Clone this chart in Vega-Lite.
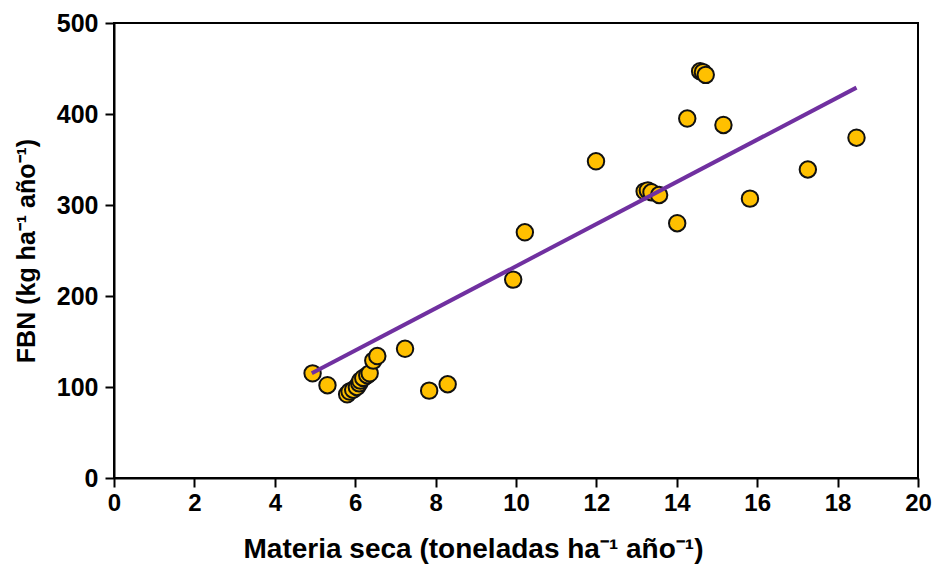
{
  "$schema": "https://vega.github.io/schema/vega-lite/v6.json",
  "width": 804,
  "height": 455,
  "autosize": {"type": "none"},
  "padding": {"left": 114, "top": 23, "right": 18, "bottom": 88},
  "background": "white",
  "config": {
    "view": {"stroke": "black", "strokeWidth": 2},
    "font": "Liberation Sans",
    "axis": {
      "domainColor": "black",
      "domainWidth": 2,
      "tickColor": "black",
      "tickWidth": 2,
      "tickSize": 9,
      "grid": false,
      "labelFont": "Liberation Sans",
      "labelFontWeight": "bold",
      "labelColor": "black",
      "titleFont": "Liberation Sans",
      "titleFontWeight": "bold",
      "titleColor": "black"
    }
  },
  "layer": [
    {
      "data": {"values": [
        {"ms": 4.94, "fbn": 115},
        {"ms": 5.31, "fbn": 102},
        {"ms": 5.80, "fbn": 92},
        {"ms": 5.86, "fbn": 95},
        {"ms": 5.95, "fbn": 97},
        {"ms": 6.04, "fbn": 100},
        {"ms": 6.10, "fbn": 104},
        {"ms": 6.13, "fbn": 107},
        {"ms": 6.20, "fbn": 110},
        {"ms": 6.30, "fbn": 113},
        {"ms": 6.36, "fbn": 115},
        {"ms": 6.45, "fbn": 129},
        {"ms": 6.55, "fbn": 134},
        {"ms": 7.24, "fbn": 142},
        {"ms": 7.84, "fbn": 96},
        {"ms": 8.30, "fbn": 103},
        {"ms": 9.93, "fbn": 218},
        {"ms": 10.22, "fbn": 270},
        {"ms": 11.99, "fbn": 348},
        {"ms": 13.20, "fbn": 315},
        {"ms": 13.28, "fbn": 316},
        {"ms": 13.37, "fbn": 314},
        {"ms": 13.56, "fbn": 311},
        {"ms": 14.01, "fbn": 280},
        {"ms": 14.26, "fbn": 395},
        {"ms": 14.58, "fbn": 447},
        {"ms": 14.65, "fbn": 446},
        {"ms": 14.72, "fbn": 443},
        {"ms": 15.16, "fbn": 388},
        {"ms": 15.82, "fbn": 307},
        {"ms": 17.26, "fbn": 339},
        {"ms": 18.47, "fbn": 374}
      ]},
      "mark": {"type": "point", "shape": "circle", "filled": true, "fill": "#FFC000", "stroke": "#111111", "strokeWidth": 2, "size": 270, "opacity": 1},
      "encoding": {
        "x": {"field": "ms", "type": "quantitative",
              "scale": {"domain": [0, 20], "nice": false, "zero": true},
              "axis": {"values": [0,2,4,6,8,10,12,14,16,18,20], "title": "Materia seca (toneladas ha⁻¹ año⁻¹)",
                       "labelFontSize": 24, "labelPadding": 4, "labelFlush": false,
                       "titleFontSize": 28, "titleX": 359, "titleY": 79, "titleBaseline": "alphabetic", "titleAlign": "center"}},
        "y": {"field": "fbn", "type": "quantitative",
              "scale": {"domain": [0, 500], "nice": false},
              "axis": {"values": [0,100,200,300,400,500], "title": "FBN (kg ha⁻¹ año⁻¹)",
                       "labelFontSize": 25, "labelPadding": 7, "labelFlush": false,
                       "titleFontSize": 25, "titleAngle": -90, "titleX": -80, "titleY": 227.5, "titleBaseline": "alphabetic", "titleAlign": "center"}}
      }
    },
    {
      "data": {"values": [
        {"ms": 4.92, "fbn": 115},
        {"ms": 18.47, "fbn": 429}
      ]},
      "mark": {"type": "line", "color": "#7030A0", "strokeWidth": 4},
      "encoding": {
        "x": {"field": "ms", "type": "quantitative"},
        "y": {"field": "fbn", "type": "quantitative"}
      }
    }
  ]
}
